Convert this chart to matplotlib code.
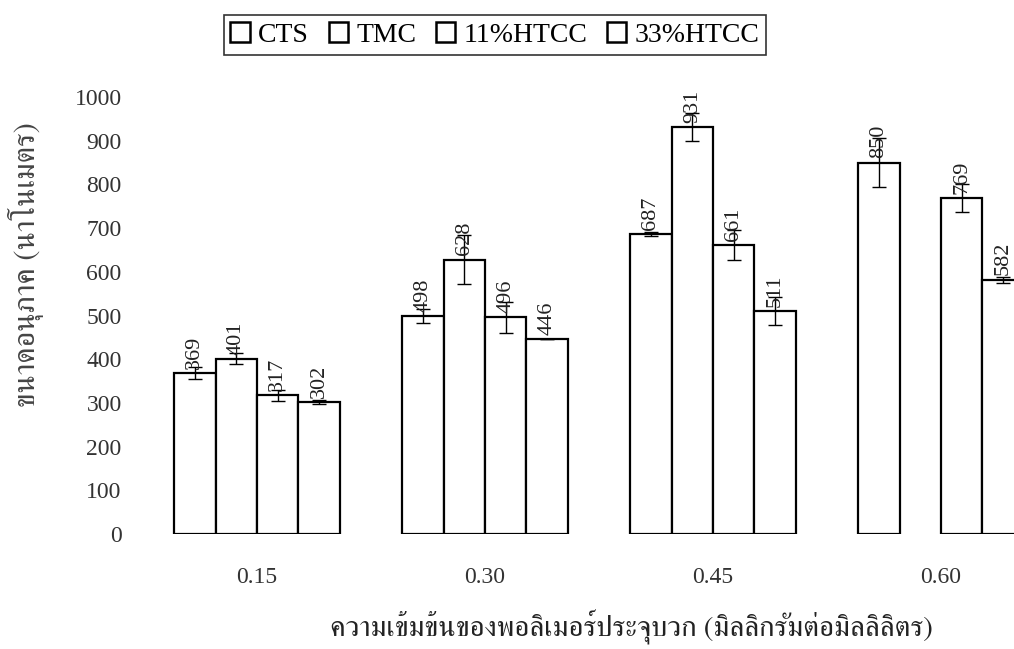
import numpy as np
import matplotlib
matplotlib.use("Agg")
import matplotlib.pyplot as plt
from matplotlib import font_manager
from matplotlib.ft2font import FT2Font
from matplotlib.patches import Patch

# Data: particle size (nm) by polymer concentration (mg/mL)
concentrations = ["0.15", "0.30", "0.45", "0.60"]
series_names = ["CTS", "TMC", "11%HTCC", "33%HTCC"]
cts = [369, 498, 687, 850]
tmc = [401, 628, 931, np.nan]
htcc11 = [317, 496, 661, 769]
htcc33 = [302, 446, 511, 582]
cts_err = [14, 16, 5, 57]
tmc_err = [13, 57, 32, np.nan]
htcc11_err = [12, 35, 35, 32]
htcc33_err = [5, 0, 32, 7]

y_label = "ขนาดอนุภาค (นาโนเมตร)"
x_label = "ความเข้มข้นของพอลิเมอร์ประจุบวก (มิลลิกรัมต่อมิลลิลิตร)"


def find_thai_font():
    """Return the name of an installed family that has Thai glyphs."""
    preferred = []
    others = []
    for f in font_manager.fontManager.ttflist:
        try:
            cmap = FT2Font(f.fname).get_charmap()
        except Exception:
            continue
        if 0x0E01 in cmap and 0x0E21 in cmap:
            if "serif" in f.name.lower() and "sans" not in f.name.lower():
                preferred.append(f.name)
            else:
                others.append(f.name)
    found = preferred + others
    return found[0] if found else None


thai_font = find_thai_font()
serif = "Liberation Serif"
thai_family = [thai_font, serif] if thai_font else [serif]

plt.rcParams["font.family"] = [serif, "DejaVu Sans"]

W, H = 1014, 649
fig = plt.figure(figsize=(W / 100, H / 100), dpi=100)
fig.patch.set_facecolor("white")

# Axes box in pixel coordinates of the figure
left_px, right_px, bottom_px, top_px = 155, 1014, 534, 97
ax = fig.add_axes([left_px / W, 1 - bottom_px / H,
                   (right_px - left_px) / W, (bottom_px - top_px) / H])

x = np.arange(len(concentrations))
width = 0.182
values = [cts, tmc, htcc11, htcc33]
errors = [cts_err, tmc_err, htcc11_err, htcc33_err]

for i, (vals, errs) in enumerate(zip(values, errors)):
    pos = x + (i - 1.5) * width
    ax.bar(pos, vals, width, color="white", edgecolor="black",
           linewidth=1.6, zorder=2)
    ax.errorbar(pos, vals, yerr=errs, fmt="none", ecolor="black",
                elinewidth=1.0, capsize=5, capthick=1.0, zorder=3)
    for xp, v in zip(pos, vals):
        if np.isnan(v):
            continue
        ax.annotate(f"{v:.0f}", (xp, v), xytext=(0, 3),
                    textcoords="offset points", rotation=90,
                    ha="center", va="bottom", fontsize=16, color="#222222",
                    zorder=4, annotation_clip=True)

ax.set_xlim((left_px - 257) / 228, (right_px - 257) / 228)
ax.set_ylim(0, 1000)
ax.set_yticks(np.arange(0, 1001, 100))
ax.set_xticks(x)
ax.set_xticklabels(concentrations)
ax.tick_params(axis="both", length=0, labelsize=17, colors="#333333")
ax.tick_params(axis="x", pad=24)
ax.tick_params(axis="y", pad=24)
for s in ax.spines.values():
    s.set_visible(False)

fig.text(26 / W, 1 - 265 / H, y_label, rotation=90, ha="center",
         va="center", fontsize=22, color="#444444", family=thai_family)
fig.text(631 / W, 1 - 626 / H, x_label, ha="center", va="center",
         fontsize=21, color="#222222", family=thai_family)

handles = [Patch(facecolor="white", edgecolor="black", linewidth=1.8)
           for _ in series_names]
leg = fig.legend(handles, series_names, loc="center", ncol=4,
                 bbox_to_anchor=(495 / W, 1 - 35 / H), frameon=True,
                 fancybox=False, edgecolor="black", fontsize=20,
                 handlelength=0.7, handleheight=0.7, handletextpad=0.3,
                 columnspacing=0.7, borderpad=0.25)
leg.get_frame().set_linewidth(1.2)

fig.savefig("out.png", dpi=100, facecolor="white")
